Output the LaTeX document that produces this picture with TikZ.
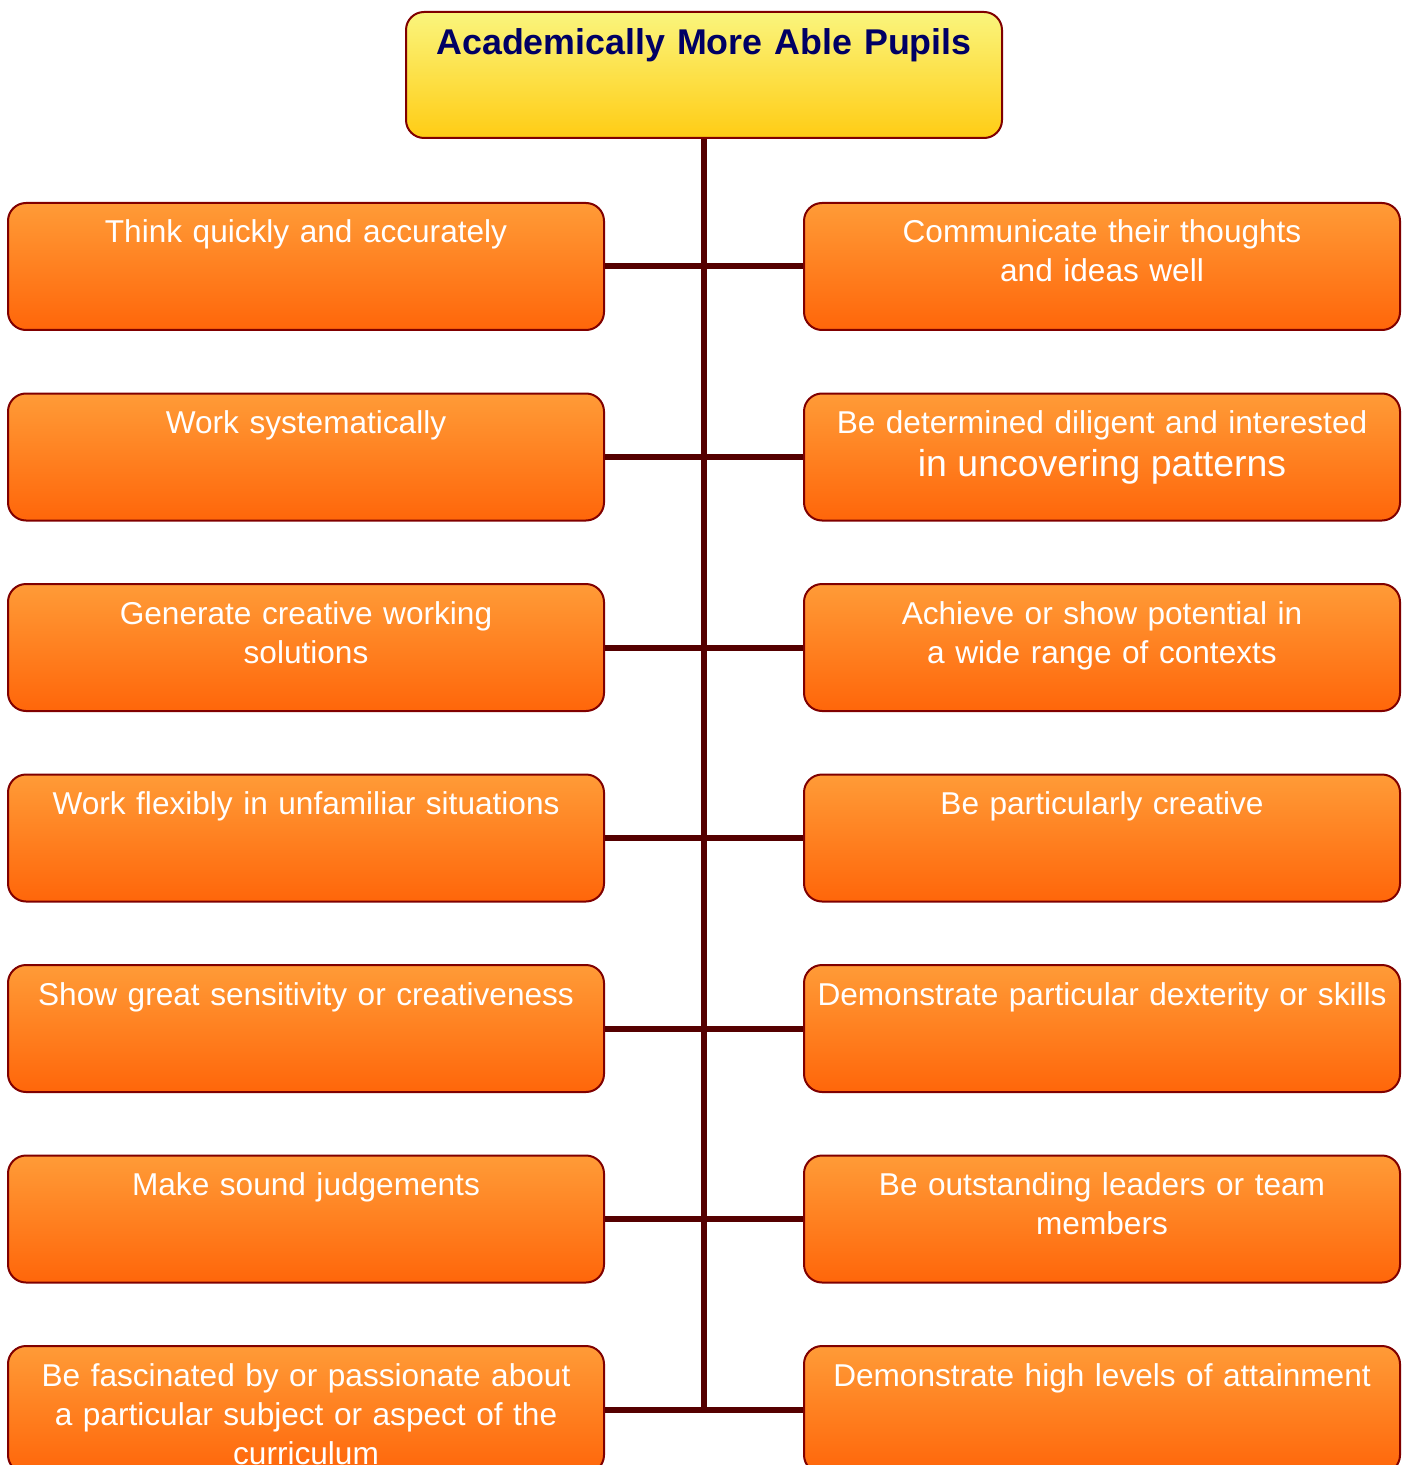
\documentclass[tikz,border=0pt]{standalone}
\usepackage{fontspec}
\setmainfont{Liberation Sans}
\usetikzlibrary{positioning}
\definecolor{boxedge}{RGB}{128,0,0}
\definecolor{linkred}{RGB}{85,0,0}
\definecolor{orangetop}{RGB}{255,155,55}
\definecolor{orangebot}{RGB}{255,102,10}
\definecolor{yellowtop}{RGB}{250,245,125}
\definecolor{yellowbot}{RGB}{255,204,20}
\definecolor{titleblue}{RGB}{0,0,100}

\begin{document}
\begin{tikzpicture}[x=0.5pt,y=-0.5pt,
    box/.style={draw=boxedge, line width=1pt, rounded corners=9pt,
      text width=298pt, align=center, inner xsep=0pt, inner ysep=8pt,
      text height=12pt, text depth=35.5pt},
    leaf/.style={box, top color=orangetop, bottom color=orangebot,
      text=white, font=\fontsize{15.8}{19.5}\selectfont},
    root/.style={box, top color=yellowtop, bottom color=yellowbot,
      text=titleblue, font=\bfseries\fontsize{17.9}{22}\selectfont,
      text height=13.5pt, text depth=33.5pt},
    link/.style={draw=linkred, line width=3pt}]
    \useasboundingbox (0,0) rectangle (1408,1465);
    \node[root] (root) at (704,75) {Academically More Able Pupils};
    % one row of boxes per trait, left and right of the trunk
    \foreach \n/\lt/\rt in {
      1/{Think quickly and accurately}/{Communicate their thoughts\\and ideas well},
      2/{Work systematically}/{Be determined diligent and interested\\[2pt]{\fontsize{18.7}{23}\selectfont in uncovering patterns}},
      3/{Generate creative working\\solutions}/{Achieve or show potential in\\a wide range of contexts},
      4/{Work flexibly in unfamiliar situations}/{Be particularly creative},
      5/{Show great sensitivity or creativeness}/{Demonstrate particular dexterity or skills},
      6/{Make sound judgements}/{Be outstanding leaders or team\\members},
      7/{Be fascinated by or passionate about\\a particular subject or aspect of the\\curriculum}/{Demonstrate high levels of attainment}}{
      \pgfmathsetmacro{\y}{266.5+(\n-1)*190.5}
      \node[leaf] (l\n) at (306,\y) {\lt};
      \node[leaf] (r\n) at (1102,\y) {\rt};
      \draw[link] (l\n) -- (r\n);
    }
    \draw[link] (root.south) -- (root.south |- l7.east);
  \end{tikzpicture}
\end{document}
